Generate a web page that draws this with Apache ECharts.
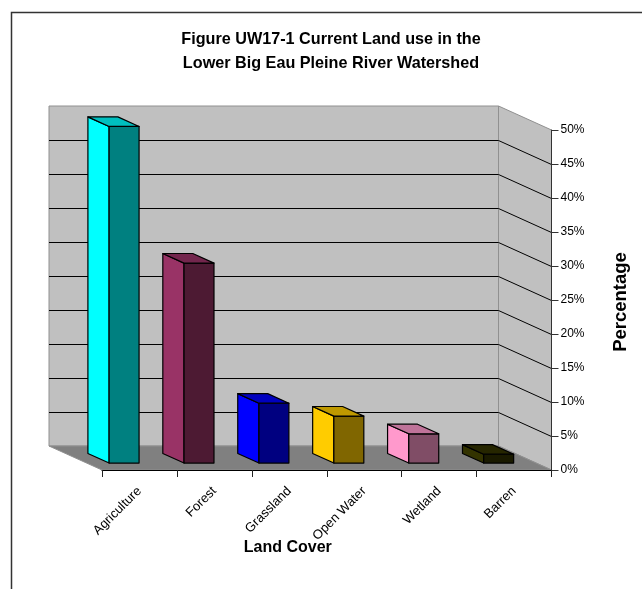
<!DOCTYPE html>
<html>
<head>
<meta charset="utf-8">
<script src="https://cdn.jsdelivr.net/npm/echarts@6/dist/echarts.min.js"></script>
<style>html,body{margin:0;padding:0;background:#fff}#chart{width:642px;height:589px}</style>
</head>
<body>
<div id="chart"></div>
<script>
// Land cover shares, percent of the watershed area
const categories = ['Agriculture', 'Forest', 'Grassland', 'Open Water', 'Wetland', 'Barren'];
const landShare = [49.5, 29.4, 8.8, 6.9, 4.3, 1.3];
const gridValues = [5, 10, 15, 20, 25, 30, 35, 40, 45];
const barColors = ['#00ffff', '#993366', '#0000ff', '#ffcc00', '#ff99cc', '#333300'];

// Oblique projection of the chart box: how far the back wall sits from the front plane
const DEPTH_X = 53, DEPTH_Y = 24;
const BAR_NEAR = 0.29, BAR_FAR = 0.69, BAR_WIDTH = 0.4;
const FONT = '"Liberation Sans", Arial, sans-serif';

function shade(hex, k) {
  const n = parseInt(hex.slice(1), 16);
  const c = [n >> 16, (n >> 8) & 255, n & 255].map(v => Math.round(v * k));
  return 'rgb(' + c.join(',') + ')';
}

function poly(points, fill, stroke, width) {
  return {
    type: 'polygon',
    shape: { points },
    style: { fill, stroke: stroke || null, lineWidth: width || 0, lineJoin: 'round' }
  };
}

// Back wall, side wall and floor of the box
function renderWalls(params, api) {
  const g = params.coordSys;
  const l = g.x, r = g.x + g.width;
  const top = api.coord([0, 50])[1], bot = api.coord([0, 0])[1];
  const edge = '#909090';
  return {
    type: 'group',
    children: [
      poly([[l - DEPTH_X, top - DEPTH_Y], [r - DEPTH_X, top - DEPTH_Y], [r - DEPTH_X, bot - DEPTH_Y], [l - DEPTH_X, bot - DEPTH_Y]], '#c0c0c0', edge, 1),
      poly([[r - DEPTH_X, top - DEPTH_Y], [r, top], [r, bot], [r - DEPTH_X, bot - DEPTH_Y]], '#c0c0c0', edge, 1),
      poly([[l - DEPTH_X, bot - DEPTH_Y], [r - DEPTH_X, bot - DEPTH_Y], [r, bot], [l, bot]], '#808080', edge, 1)
    ]
  };
}

// One gridline: across the back wall, then down the side wall to the axis tick
function renderGridline(params, api) {
  const g = params.coordSys;
  const l = g.x, r = g.x + g.width;
  const y = api.coord([0, api.value(0)])[1];
  const back = y - DEPTH_Y + 0.5;
  return {
    type: 'polyline',
    shape: { points: [[l - DEPTH_X, back], [r - DEPTH_X, back], [r, y + 0.5]] },
    style: { fill: null, stroke: '#000', lineWidth: 1 }
  };
}

// One column: side, front and top faces
function renderColumn(params, api) {
  const i = api.value(0);
  const top = api.coord([i, api.value(1)]);
  const base = api.coord([i, 0]);
  const half = api.size([1, 0])[0] * BAR_WIDTH / 2;
  const color = barColors[i];
  const at = (x, y, d) => [x - d * DEPTH_X, y - d * DEPTH_Y];
  const xl = top[0] - half, xr = top[0] + half, yt = top[1], yb = base[1];
  const stroke = '#000';
  return {
    type: 'group',
    children: [
      poly([at(xl, yt, BAR_FAR), at(xl, yt, BAR_NEAR), at(xl, yb, BAR_NEAR), at(xl, yb, BAR_FAR)], color, stroke, 1.2),
      poly([at(xl, yt, BAR_NEAR), at(xr, yt, BAR_NEAR), at(xr, yb, BAR_NEAR), at(xl, yb, BAR_NEAR)], shade(color, 0.5), stroke, 1.2),
      poly([at(xl, yt, BAR_FAR), at(xr, yt, BAR_FAR), at(xr, yt, BAR_NEAR), at(xl, yt, BAR_NEAR)], shade(color, 0.75), stroke, 1.2)
    ]
  };
}

const chart = echarts.init(document.getElementById('chart'), null, { renderer: 'canvas' });
chart.setOption({
  animation: false,
  backgroundColor: '#ffffff',
  title: {
    text: 'Figure UW17-1 Current Land use in the\nLower Big Eau Pleine River Watershed',
    left: 326,
    top: 23,
    textAlign: 'center',
    textStyle: { fontFamily: FONT, fontWeight: 'bold', fontSize: 16.2, lineHeight: 24, color: '#000' }
  },
  graphic: [{
    type: 'polyline',
    shape: { points: [[11.5, 589], [11.5, 12.5], [642, 12.5]] },
    style: { fill: null, stroke: '#333', lineWidth: 1.5 }
  }],
  grid: { left: 102, right: 90.5, top: 130, bottom: 119 },
  xAxis: {
    type: 'category',
    data: categories,
    z: 3,
    name: 'Land Cover',
    nameLocation: 'middle',
    nameMoveOverlap: false,
    nameGap: 70,
    nameTextStyle: { fontFamily: FONT, fontWeight: 'bold', fontSize: 16, color: '#000', padding: [0, 78, 0, 0] },
    axisLine: { lineStyle: { color: '#000', width: 1 } },
    axisTick: { show: true, length: 7, lineStyle: { color: '#222', width: 1 } },
    axisLabel: { rotate: 45, interval: 0, margin: 19, fontFamily: FONT, fontSize: 13, color: '#000' },
    splitLine: { show: false }
  },
  yAxis: {
    type: 'value',
    position: 'right',
    min: 0,
    max: 50,
    interval: 5,
    z: 3,
    name: 'Percentage',
    nameLocation: 'middle',
    nameRotate: 90,
    nameGap: 60,
    nameTextStyle: { fontFamily: FONT, fontWeight: 'bold', fontSize: 18.5, color: '#000', padding: [0, 4, 0, 0] },
    axisLine: { show: true, lineStyle: { color: '#333', width: 1 } },
    axisTick: { show: true, length: 7, lineStyle: { color: '#333', width: 1 } },
    axisLabel: { margin: 9, formatter: '{value}%', fontFamily: FONT, fontSize: 12, color: '#000' },
    splitLine: { show: false }
  },
  series: [
    {
      name: 'Walls', type: 'custom', z: 1, clip: false, silent: true,
      encode: { y: 0 },
      data: [[0]],
      renderItem: renderWalls
    },
    {
      name: 'Gridlines', type: 'custom', z: 1, clip: false, silent: true,
      encode: { y: 0 },
      data: gridValues.map(v => [v]),
      renderItem: renderGridline
    },
    {
      name: 'Land cover', type: 'custom', z: 4, clip: false,
      encode: { x: 0, y: 1 },
      data: landShare.map((v, i) => [i, v]),
      renderItem: renderColumn
    }
  ]
});
</script>
</body>
</html>
